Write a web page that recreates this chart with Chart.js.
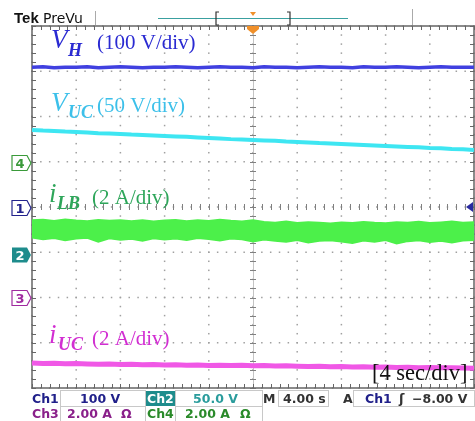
<!DOCTYPE html>
<html><head><meta charset="utf-8">
<script src="https://cdn.jsdelivr.net/npm/chart.js@4"></script>
<style>
html,body{margin:0;padding:0;background:#fff;}
#wrap{position:relative;width:475px;height:421px;overflow:hidden;background:#fff;}
</style></head>
<body>
<div id="wrap"><canvas id="c" width="475" height="421"></canvas></div>
<script>
// time axis, seconds (4 s/div, 10 div)
const timeS = [0,1,2,3,4,5,6,7,8,9,10,11,12,13,14,15,16,17,18,19,20,21,22,23,24,25,26,27,28,29,30,31,32,33,34,35,36,37,38,39,40];
// Ch1: V_H (V), 100 V/div
const vH = [309,310,308,309,309,310,308,309,310,309,308,309,309,310,309,308,309,310,309,309,308,310,309,309,308,309,310,309,309,308,310,309,309,310,309,308,309,310,309,309,309];
// Ch2: V_UC (V), 50 V/div
const vUC = [135.2,134.4,134.1,133.3,133.0,132.4,131.6,131.3,130.7,130.0,129.6,129.0,128.5,127.9,127.5,126.8,126.2,125.8,125.0,124.7,124.1,123.5,123.1,122.3,121.9,121.4,120.7,120.3,119.6,119.1,118.6,118.0,117.5,116.9,116.4,115.9,115.2,114.8,114.1,113.7,113.1];
// Ch4: i_LB (A), 2 A/div — upper / lower envelope of the noisy band
const iLBhi = [-2.58,-2.55,-2.61,-2.54,-2.59,-2.62,-2.56,-2.60,-2.57,-2.62,-2.58,-2.63,-2.59,-2.56,-2.62,-2.58,-2.61,-2.55,-2.60,-2.63,-2.58,-2.65,-2.68,-2.63,-2.70,-2.66,-2.69,-2.72,-2.67,-2.70,-2.65,-2.69,-2.71,-2.66,-2.69,-2.64,-2.70,-2.67,-2.63,-2.68,-2.66];
const iLBlo = [-3.36,-3.44,-3.38,-3.48,-3.40,-3.37,-3.55,-3.39,-3.46,-3.41,-3.50,-3.39,-3.45,-3.40,-3.47,-3.38,-3.43,-3.49,-3.40,-3.44,-3.53,-3.45,-3.50,-3.55,-3.47,-3.58,-3.50,-3.48,-3.54,-3.60,-3.49,-3.55,-3.47,-3.62,-3.52,-3.48,-3.56,-3.50,-3.58,-3.49,-3.47];
// Ch3: i_UC (A), 2 A/div
const iUC = [-2.90,-2.92,-2.91,-2.93,-2.92,-2.94,-2.95,-2.94,-2.96,-2.95,-2.97,-2.96,-2.98,-2.97,-2.99,-2.98,-3.00,-2.99,-3.01,-3.00,-3.02,-3.01,-3.03,-3.02,-3.04,-3.05,-3.04,-3.06,-3.05,-3.07,-3.06,-3.08,-3.07,-3.09,-3.08,-3.10,-3.09,-3.11,-3.10,-3.12,-3.13];

const pts = arr => timeS.map((t,i)=>({x:t,y:arr[i]}));

const SERIF = '"Liberation Serif","DejaVu Serif",serif';
const SANS = '"DejaVu Sans","Liberation Sans",sans-serif';

const graticule = {
  id:'graticule',
  beforeDatasetsDraw(chart){
    const ctx = chart.ctx, xs = chart.scales.x, yd = chart.scales.yDiv;
    const {left,right,top,bottom} = chart.chartArea;
    ctx.save();
    ctx.fillStyle = '#a0a0a0';
    for (let i=0;i<=10;i++){
      const px = xs.getPixelForValue(i*4);
      for (let j=0;j<=40;j++){
        const py = yd.getPixelForValue(-4 + j*0.2);
        ctx.fillRect(px-0.75, py-0.75, 1.5, 1.5);
      }
    }
    for (let j=0;j<=8;j++){
      const py = yd.getPixelForValue(-4 + j);
      for (let i=0;i<=50;i++){
        const px = xs.getPixelForValue(i*0.8);
        ctx.fillRect(px-0.75, py-0.75, 1.5, 1.5);
      }
    }
    const cx = xs.getPixelForValue(20), cy = yd.getPixelForValue(0);
    ctx.strokeStyle = '#c4c4c4'; ctx.lineWidth = 1;
    ctx.beginPath(); ctx.moveTo(Math.round(cx)+0.5, top); ctx.lineTo(Math.round(cx)+0.5, bottom); ctx.stroke();
    ctx.strokeStyle = '#808080';
    ctx.beginPath();
    for (let j=0;j<=40;j++){ const py = Math.round(yd.getPixelForValue(-4+j*0.2))+0.5; ctx.moveTo(cx-3,py); ctx.lineTo(cx+3,py); }
    for (let i=0;i<=50;i++){ const px = Math.round(xs.getPixelForValue(i*0.8))+0.5; ctx.moveTo(px,cy-3); ctx.lineTo(px,cy+3); }
    ctx.stroke();
    ctx.strokeStyle = '#666';
    ctx.lineWidth = 1.5;
    ctx.strokeRect(left, top, right-left, bottom-top);
    ctx.lineWidth = 1;
    ctx.beginPath();
    for (let i=0;i<=50;i++){ const px = Math.round(xs.getPixelForValue(i*0.8))+0.5; ctx.moveTo(px,top); ctx.lineTo(px,top+4); ctx.moveTo(px,bottom); ctx.lineTo(px,bottom-4); }
    for (let j=0;j<=40;j++){ const py = Math.round(yd.getPixelForValue(-4+j*0.2))+0.5; ctx.moveTo(left,py); ctx.lineTo(left+4,py); ctx.moveTo(right,py); ctx.lineTo(right-4,py); }
    ctx.stroke();
    ctx.restore();
  },
  afterDraw(chart){
    const ctx = chart.ctx;
    ctx.save();
    ctx.textBaseline = 'alphabetic';
    ctx.textAlign = 'left';
    const txt = (s,x,y,font,color)=>{ctx.font=font; ctx.fillStyle=color; ctx.fillText(s,x,y);};
    txt('Tek', 14, 23, 'bold 15px "Liberation Sans",sans-serif', '#111');
    txt('PreVu', 43, 23, '14px '+SANS, '#111');
    ctx.strokeStyle='#aaa'; ctx.lineWidth=1;
    ctx.beginPath(); ctx.moveTo(95.5,11); ctx.lineTo(95.5,25); ctx.moveTo(412.5,9); ctx.lineTo(412.5,25); ctx.stroke();
    ctx.strokeStyle='#3aa0a0';
    ctx.beginPath(); ctx.moveTo(158,18.5); ctx.lineTo(348,18.5); ctx.stroke();
    ctx.strokeStyle='#333'; ctx.lineWidth=1.2;
    ctx.beginPath(); ctx.moveTo(219,12); ctx.lineTo(216,12); ctx.lineTo(216,25); ctx.lineTo(219,25);
    ctx.moveTo(287,12); ctx.lineTo(290,12); ctx.lineTo(290,25); ctx.lineTo(287,25); ctx.stroke();
    ctx.fillStyle='#f0902a';
    ctx.beginPath(); ctx.moveTo(250,12); ctx.lineTo(256,12); ctx.lineTo(253,16); ctx.closePath(); ctx.fill();
    ctx.beginPath(); ctx.moveTo(247,26); ctx.lineTo(259,26); ctx.lineTo(259,29); ctx.lineTo(253,34); ctx.lineTo(247,29); ctx.closePath(); ctx.fill();
    ctx.fillStyle='#2a2aa0';
    ctx.beginPath(); ctx.moveTo(466,207); ctx.lineTo(473,202); ctx.lineTo(473,212); ctx.closePath(); ctx.fill();
    const marker=(label,cy,color,filled)=>{
      ctx.beginPath();
      ctx.moveTo(12,cy-7.5); ctx.lineTo(27,cy-7.5); ctx.lineTo(31,cy); ctx.lineTo(27,cy+7.5); ctx.lineTo(12,cy+7.5); ctx.closePath();
      if(filled){ctx.fillStyle=color; ctx.fill();}
      else {ctx.fillStyle='#fff'; ctx.fill(); ctx.strokeStyle=color; ctx.lineWidth=1.2; ctx.stroke();}
      ctx.font='bold 13px '+SANS; ctx.fillStyle=filled?'#fff':color; ctx.textAlign='center';
      ctx.fillText(label,20,cy+5); ctx.textAlign='left';
    };
    marker('4',163,'#3a9a3a',false);
    marker('1',208,'#22228c',false);
    marker('2',255,'#1e8c8c',true);
    marker('3',298,'#a02aa0',false);
    const lab=(main,sub,rest,x,yb,color,subDx,subDy,restX)=>{
      txt(main,x,yb,'italic 27px '+SERIF,color);
      txt(sub,x+subDx,yb+subDy,'italic bold 18px '+SERIF,color);
      txt(rest,restX,yb+(main==='V'?1:2),'21px '+SERIF,color);
    };
    lab('V','H','(100 V/div)',51,48,'#2a2ad2',17,8,97);
    lab('V','UC','(50 V/div)',51,111,'#3cc0ea',17,7,97);
    lab('i','LB','(2 A/div)',49,202,'#2ea65a',8,7,92);
    lab('i','UC','(2 A/div)',49,343,'#d22ed2',9,7,92);
    txt('[4 sec/div]',372,380,'22.5px '+SERIF,'#111');
    ctx.strokeStyle='#c8c8c8'; ctx.lineWidth=1;
    [[60,390,85,16],[175,390,87,16],[278,390,50,16],[353,390,121,16],[60,406,85,15],[175,406,87,15]].forEach(r=>ctx.strokeRect(r[0]+0.5,r[1]+0.5,r[2],r[3]));
    ctx.fillStyle='#1e8c8c'; ctx.fillRect(146,391,29,15);
    const RO='bold 12.5px '+SANS;
    txt('Ch1',32,403,RO,'#20208a');
    txt('100 V',80,403,RO,'#20208a');
    txt('Ch2',147,403,RO,'#fff');
    txt('50.0 V',193,403,RO,'#2a9c9c');
    txt('M',263,403,RO,'#333');
    txt('4.00 s',283,403,RO,'#333');
    txt('A',343,403,RO,'#333');
    txt('Ch1',365,403,RO,'#20208a');
    txt('\u0283',399,403,'bold 13px '+SANS,'#333');
    txt('\u22128.00 V',412,403,RO,'#333');
    txt('Ch3',32,418,RO,'#8a208a');
    txt('2.00 A',67,418,RO,'#8a208a');
    txt('\u03A9',121,418,RO,'#8a208a');
    txt('Ch4',147,418,RO,'#2a8a2a');
    txt('2.00 A',185,418,RO,'#2a8a2a');
    txt('\u03A9',240,418,RO,'#2a8a2a');
    ctx.restore();
  }
};

new Chart(document.getElementById('c'), {
  type:'line',
  data:{datasets:[
    {data:pts(vH), yAxisID:'y1', borderColor:'#4040e0', borderWidth:3.5, pointRadius:0, tension:0, fill:false},
    {data:pts(vUC), yAxisID:'y2', borderColor:'#3ee6f2', borderWidth:4, pointRadius:0, tension:0, fill:false},
    {data:pts(iLBhi), yAxisID:'y4', borderColor:'#4cf04a', backgroundColor:'#4cf04a', borderWidth:1.5, pointRadius:0, tension:0, fill:'+1'},
    {data:pts(iLBlo), yAxisID:'y4', borderColor:'#4cf04a', borderWidth:1.5, pointRadius:0, tension:0, fill:false},
    {data:pts(iUC), yAxisID:'y3', borderColor:'#f058e6', borderWidth:5, pointRadius:0, tension:0, fill:false}
  ]},
  options:{
    responsive:false, animation:false, events:[],
    layout:{padding:{left:32,right:1,top:26,bottom:33}},
    plugins:{legend:{display:false}, tooltip:{enabled:false}},
    scales:{
      x:{type:'linear', min:0, max:40, display:false},
      yDiv:{type:'linear', axis:'y', min:-4, max:4, display:false},
      y1:{type:'linear', axis:'y', min:-400, max:400, display:false},
      y2:{type:'linear', axis:'y', min:-150, max:250, display:false},
      y4:{type:'linear', axis:'y', min:-10, max:6, display:false},
      y3:{type:'linear', axis:'y', min:-4, max:12, display:false}
    }
  },
  plugins:[graticule]
});
</script>
</body></html>
